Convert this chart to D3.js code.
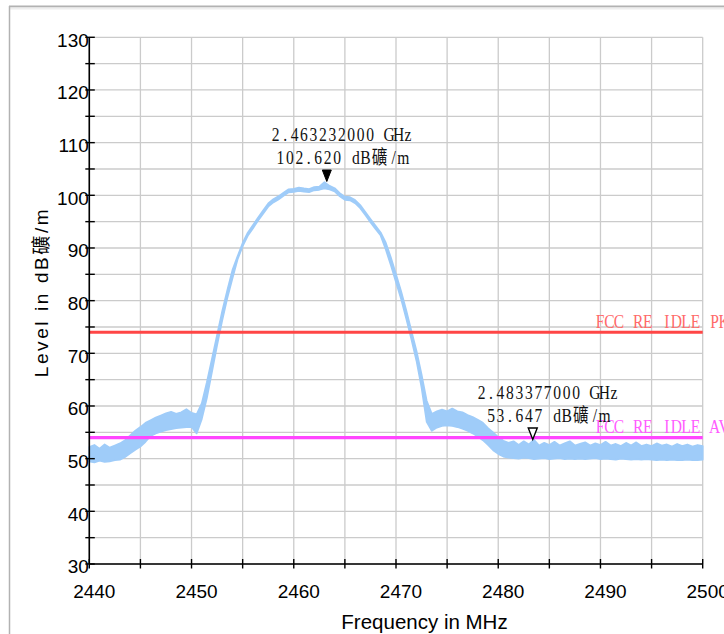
<!DOCTYPE html>
<html><head><meta charset="utf-8">
<script src="https://cdn.jsdelivr.net/npm/d3@7"></script>
<style>body{margin:0;background:#fff}svg{display:block}</style>
</head><body>
<svg id="c" width="724" height="634"></svg>
<script>
// ---------- data ----------
const freq = [2440,2440.5,2441,2441.5,2442,2442.5,2443,2443.5,2444,2444.5,2445,2445.5,2446,2446.5,2447,2447.5,2448,2448.5,2449,2449.5,
2450,2450.5,2451,2451.5,2452,2452.5,2453,2453.5,2454,2454.5,2455,2455.5,2456,2456.5,2457,2457.5,2458,2458.5,2459,2459.5,
2460,2460.5,2461,2461.5,2462,2462.5,2463,2463.5,2464,2464.5,2465,2465.5,2466,2466.5,2467,2467.5,2468,2468.5,2469,2469.5,
2470,2470.5,2471,2471.5,2472,2472.5,2473,2473.5,2474,2474.5,2475,2475.5,2476,2476.5,2477,2477.5,2478,2478.5,2479,2479.5,
2480,2480.5,2481,2481.5,2482,2482.5,2483,2483.5,2484,2484.5,2485,2485.5,2486,2486.5,2487,2487.5,2488,2488.5,2489,2489.5,
2490,2490.5,2491,2491.5,2492,2492.5,2493,2493.5,2494,2494.5,2495,2495.5,2496,2496.5,2497,2497.5,2498,2498.5,2499,2499.5,2500];
const levelLo = [49.5,49.3,49.6,49.4,49.5,49.7,49.8,50.3,51.0,51.7,52.3,53.2,54.3,54.8,55.1,55.4,55.6,55.8,55.9,56.0,
56.0,54.8,57.5,61.5,66.5,71.5,76.2,80.5,84.2,87.8,90.35,92.3,93.7,95.15,96.5,97.85,98.65,99.2,99.9,100.55,
100.65,100.85,100.7,100.6,100.95,101.05,101.3,101.1,100.75,99.8,99.15,99.05,98.5,97.55,96.25,94.9,93.6,92.35,89.7,86.7,
83.5,80.3,76.6,72.7,68.6,63.5,57.0,55.3,55.9,56.2,56.3,56.2,56.0,55.7,55.3,54.8,54.2,53.5,52.6,51.6,
50.9,50.4,50.2,50.1,50.0,50.2,50.1,49.9,50.0,50.1,49.9,50.0,50.1,49.9,50.0,49.9,50.0,49.9,50.0,50.1,
49.9,50.0,49.9,49.8,50.0,49.9,49.8,49.9,49.8,49.9,49.8,49.7,49.8,49.7,49.8,49.7,49.7,49.8,49.7,49.7,49.8];
const levelHi = [52.2,52.6,51.9,52.7,52.1,52.5,52.9,53.5,54.4,55.3,56.0,56.8,57.3,57.8,58.2,58.6,58.9,58.5,58.8,59.4,
58.7,58.4,60.5,64.5,69.0,73.5,78.0,82.0,85.8,88.4,90.95,92.9,94.3,95.75,97.1,98.45,99.25,99.8,100.5,101.15,
101.25,101.45,101.3,101.2,101.55,101.65,102.5,101.8,101.35,100.4,99.75,99.65,99.1,98.15,96.85,95.5,94.2,92.95,91.0,88.2,
85.0,81.8,78.2,74.3,70.5,66.0,61.0,58.5,59.0,59.3,59.0,59.5,59.0,58.8,58.3,57.9,57.4,56.8,55.8,55.0,
54.1,53.4,53.0,53.3,52.6,53.3,52.7,53.6,52.5,53.0,52.6,53.2,52.5,52.9,53.3,52.5,52.8,53.1,52.5,52.9,
52.6,53.2,52.5,52.8,52.4,53.0,52.5,53.1,52.4,52.7,52.4,52.9,52.5,52.7,52.3,52.8,52.4,52.7,52.3,52.6,52.4];

const xTicks = [2440,2450,2460,2470,2480,2490,2500];
const xMinor = [2445,2455,2465,2475,2485,2495];
const yTicks = [30,40,50,60,70,80,90,100,110,120,130];
const yMinor = [35,45,55,65,75,85,95,105,115,125];

const limitNames = ["FCC RE IDLE PK","FCC RE IDLE AV"];
const limitValues = [74, 54];

const markerFreq = [2463.232, 2483.377];
const markerLevel = [102.620, 53.647];
const markerFreqText = ["2.463232000 GHz","2.483377000 GHz"];
const markerLevelText = ["102.620 dB礦/m","53.647 dB礦/m"];

const xTitle = "Frequency in MHz";
const yTitle = "Level in dB礦/m";

// ---------- styles ----------
const traceColor = "#9fccf9";
const limitLineColors = ["#ff4646","#ff46ff"];
const limitTextColors = ["#ff6a6a","#ff5cff"];
const gridColor = "#cbcbcb";
const sansFont = "'Liberation Sans', Arial, 'Noto Sans CJK SC', sans-serif";
const serifFont = "'Liberation Serif', 'Noto Sans CJK SC', serif";

// ---------- chart ----------
const svg = d3.select("#c");
svg.append("rect").attr("width",724).attr("height",634).attr("fill","#fff");
// outer frame
svg.append("line").attr("x1",9).attr("x2",724).attr("y1",6.5).attr("y2",6.5).attr("stroke","#b2b2b2").attr("stroke-width",2);
svg.append("line").attr("x1",9).attr("x2",724).attr("y1",8.5).attr("y2",8.5).attr("stroke","#eeeeee").attr("stroke-width",2);
svg.append("line").attr("x1",9.5).attr("x2",9.5).attr("y1",6).attr("y2",634).attr("stroke","#b2b2b2").attr("stroke-width",1.5);

const x = d3.scaleLinear().domain([2440,2500]).range([89.3,702.7]);
const y = d3.scaleLinear().domain([30,130]).range([564,37.3]);

// grid
const grid = svg.append("g");
[...xTicks, ...xMinor].forEach(v=>{
  grid.append("line").attr("x1",x(v)).attr("x2",x(v)).attr("y1",y(130)).attr("y2",y(30))
    .attr("stroke",gridColor).attr("stroke-width",1.3);
});
[...yTicks, ...yMinor].forEach(v=>{
  grid.append("line").attr("x1",x(2440)).attr("x2",x(2500)).attr("y1",y(v)).attr("y2",y(v))
    .attr("stroke",gridColor).attr("stroke-width",1.3);
});

// trace band
const traceData = freq.map((f,i)=>({f, lo:levelLo[i], hi:levelHi[i]}));
const area = d3.area().x(d=>x(d.f)).y0(d=>y(d.lo)).y1(d=>y(d.hi));
svg.append("path").datum(traceData).attr("d",area)
  .attr("fill",traceColor).attr("stroke",traceColor).attr("stroke-width",1.7).attr("stroke-linejoin","round");

// limit lines
limitValues.forEach((v,i)=>{
  svg.append("line").attr("x1",x(2440)).attr("x2",x(2500)).attr("y1",y(v)).attr("y2",y(v))
    .attr("stroke",limitLineColors[i]).attr("stroke-width",3.2);
});

// monospaced narrow serif text helper (each glyph centered in a fixed cell)
const sx = 0.82;
function monoText(str, anchorX, baseY, cell, align, color){
  const chars = Array.from(str);
  const widths = chars.map(c => c.charCodeAt(0) > 0x2E80 ? 2 : 1);
  const total = d3.sum(widths);
  const start = align === "middle" ? anchorX - total*cell/2 : anchorX;
  const xs = []; let acc = 0;
  widths.forEach(w=>{ xs.push(((start + (acc + w/2)*cell)/sx).toFixed(2)); acc += w; });
  svg.append("text").attr("transform",`scale(${sx},1)`).attr("x", xs.join(" ")).attr("y", baseY)
    .attr("text-anchor","middle").attr("font-family",serifFont).attr("font-size",19)
    .attr("fill",color).style("white-space","pre").text(str);
}

limitNames.forEach((n,i)=>{
  monoText(n, x(2500) - 107.5, y(limitValues[i]) - 4.5, 9.55, "start", limitTextColors[i]);
});

// markers
markerFreq.forEach((f,i)=>{
  const mx = x(f), my = y(markerLevel[i]);
  const tri = `M${mx-4.5},${my-11.5} L${mx+4.5},${my-11.5} L${mx},${my} Z`;
  svg.append("path").attr("d",tri)
    .attr("fill", i===0 ? "#000" : "#fff").attr("stroke","#000").attr("stroke-width", i===0?1:1.4);
  monoText(markerFreqText[i], mx + 15, my - 40.5, 9.45, "middle", "#111");
  monoText(markerLevelText[i], mx + 15, my - 17.5, 9.45, "middle", "#111");
});

// axes
const ax = svg.append("g");
ax.append("line").attr("x1",x(2440)).attr("x2",x(2440)).attr("y1",y(130)).attr("y2",y(30)).attr("stroke","#000").attr("stroke-width",1.6);
ax.append("line").attr("x1",x(2440)).attr("x2",x(2500)).attr("y1",y(30)).attr("y2",y(30)).attr("stroke","#000").attr("stroke-width",1.6);
[...xTicks, ...xMinor].forEach(v=>{
  ax.append("line").attr("x1",x(v)).attr("x2",x(v)).attr("y1",y(30)-5).attr("y2",y(30)+4.5).attr("stroke","#000").attr("stroke-width",1.4);
});
[...yTicks, ...yMinor].forEach(v=>{
  ax.append("line").attr("x1",x(2440)-4).attr("x2",x(2440)+5.5).attr("y1",y(v)).attr("y2",y(v)).attr("stroke","#000").attr("stroke-width",1.4);
});
xTicks.forEach(v=>{
  ax.append("text").attr("x",x(v)+5).attr("y",y(30)+33.5).attr("text-anchor","middle")
    .attr("font-family",sansFont).attr("font-size",19).attr("fill","#000").text(v);
});
yTicks.forEach(v=>{
  ax.append("text").attr("x",x(2440)-0.5).attr("y",y(v)+9.3).attr("text-anchor","end")
    .attr("font-family",sansFont).attr("font-size",19).attr("fill","#000").text(v);
});
ax.append("text").attr("x",424.5).attr("y",628.5).attr("text-anchor","middle")
  .attr("font-family",sansFont).attr("font-size",20.5).attr("fill","#000").text(xTitle);
ax.append("text").attr("transform","translate(48.3,292) rotate(-90)").attr("text-anchor","middle")
  .attr("font-family",sansFont).attr("font-size",19).attr("letter-spacing","2.6px").attr("fill","#000").text(yTitle);
</script>
</body></html>
